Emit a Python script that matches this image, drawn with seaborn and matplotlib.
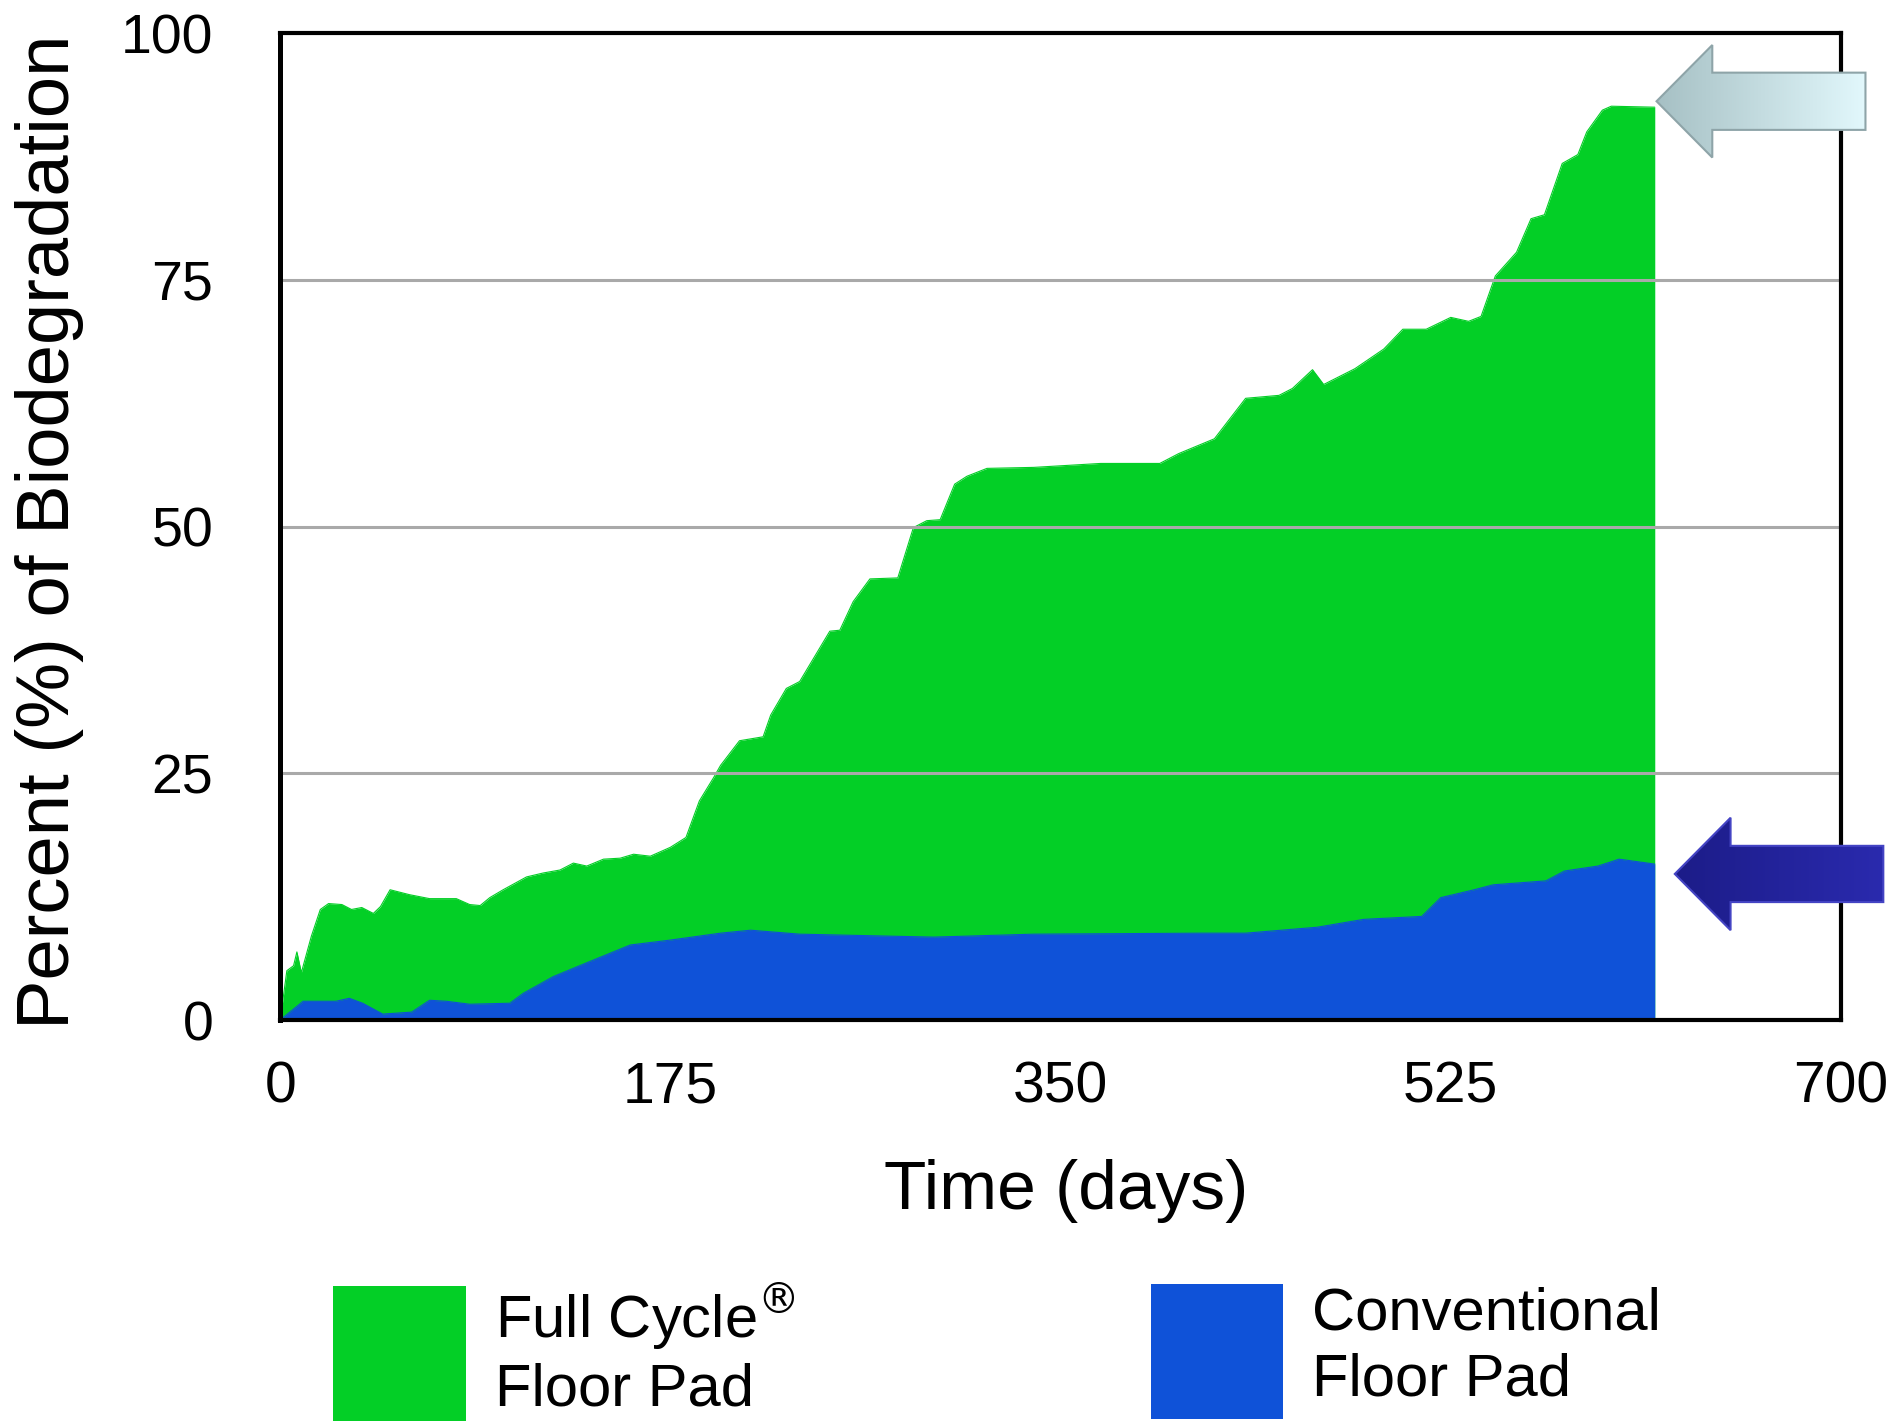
import numpy as np
import pandas as pd
import matplotlib
matplotlib.use("Agg")
from matplotlib import pyplot as plt
from matplotlib.patches import Polygon, Patch
from matplotlib.colors import LinearSegmentedColormap
import seaborn as sns

# values
full_days = [0, 3, 6, 7.5, 9.5, 14, 18, 21.7, 27.7, 32, 36.6, 41.8, 45, 49.3, 58, 67, 79, 85,
             89.7, 94, 100, 110.5, 118, 125.5, 131.5, 137.5, 145, 152.5, 158.5, 166, 175, 182,
             188, 194.5, 197.5, 206, 216.6, 220, 227, 233, 237.5, 246.5, 251, 257, 264.5, 277,
             284, 290, 296, 302.5, 308, 317, 338, 368, 394.5, 403, 419, 433, 448, 454, 463, 468,
             482, 495, 503.5, 514, 525, 533, 538.6, 545, 554.5, 561, 567, 575, 582, 586, 593,
             597, 616.5]
full_pct = [0, 5.0, 5.5, 6.9, 4.8, 8.5, 11.2, 11.8, 11.7, 11.2, 11.4, 10.8, 11.5, 13.2, 12.7,
            12.3, 12.3, 11.7, 11.6, 12.4, 13.2, 14.5, 14.9, 15.2, 15.9, 15.6, 16.3, 16.4, 16.8,
            16.6, 17.5, 18.5, 22.2, 24.6, 25.8, 28.3, 28.7, 30.9, 33.6, 34.3, 36.0, 39.4, 39.5,
            42.4, 44.7, 44.8, 49.9, 50.6, 50.7, 54.3, 55.1, 55.9, 56.0, 56.4, 56.4, 57.4, 58.9,
            63.0, 63.3, 64.0, 65.9, 64.4, 66.0, 68.0, 70.0, 70.0, 71.2, 70.8, 71.3, 75.4, 77.8,
            81.2, 81.6, 86.8, 87.7, 90.0, 92.2, 92.6, 92.5]

conv_days = [0, 10.3, 25, 31, 37, 46, 59, 67, 74.5, 85, 103, 109, 122.5, 137.5, 157, 175, 197.5,
             211, 233, 293, 338, 413, 433, 465, 486, 512, 520.5, 535.5, 544, 567.7, 576, 591,
             600.5, 616.5]
conv_pct = [0, 1.9, 1.9, 2.2, 1.7, 0.6, 0.8, 2.0, 1.9, 1.6, 1.7, 2.7, 4.4, 5.8, 7.6, 8.1, 8.8,
            9.1, 8.7, 8.4, 8.7, 8.8, 8.8, 9.4, 10.2, 10.5, 12.4, 13.2, 13.7, 14.1, 15.1, 15.6,
            16.3, 15.8]

x_ticks = [0, 175, 350, 525, 700]
y_ticks = [0, 25, 50, 75, 100]
series_labels = ["Full Cycle$^{\\circledR}$\nFloor Pad", "Conventional\nFloor Pad"]

GREEN = "#03cf26"
BLUE = "#0f52d8"

sns.set_theme(style="white")
plt.rcParams['font.family'] = ['Liberation Sans', 'DejaVu Sans']
plt.rcParams['text.color'] = 'black'
plt.rcParams['axes.labelcolor'] = 'black'
plt.rcParams['xtick.color'] = 'black'
plt.rcParams['ytick.color'] = 'black'


def draw_arrow(ax, tip_x, tip_y, tail_x, head_len, head_half, shaft_half, c_left, c_right, edge):
    hx = tip_x + head_len
    verts = [(tip_x, tip_y), (hx, tip_y + head_half), (hx, tip_y + shaft_half),
             (tail_x, tip_y + shaft_half), (tail_x, tip_y - shaft_half),
             (hx, tip_y - shaft_half), (hx, tip_y - head_half)]
    poly = Polygon(verts, closed=True, facecolor="none", edgecolor=edge, lw=1.5,
                   clip_on=False, zorder=7)
    ax.add_patch(poly)
    cmap = LinearSegmentedColormap.from_list("arrow", [c_left, c_right])
    grad = np.linspace(0, 1, 256).reshape(1, -1)
    im = ax.imshow(grad, cmap=cmap, aspect="auto", interpolation="bilinear", zorder=6,
                   extent=[tip_x, tail_x, tip_y - head_half, tip_y + head_half])
    im.set_clip_path(poly)
    im.set_clip_box(ax.figure.bbox)


fig = plt.figure(figsize=(18.93, 14.24), dpi=100)
ax = fig.add_axes([0.148, 0.2837, 0.8245, 0.693])

full = pd.DataFrame({"day": full_days, "pct": full_pct})
conv = pd.DataFrame({"day": conv_days, "pct": conv_pct})

sns.lineplot(data=full, x="day", y="pct", color=GREEN, lw=0.8, ax=ax, zorder=1)
ax.fill_between(full["day"], full["pct"], color=GREEN, lw=0, zorder=1)
sns.lineplot(data=conv, x="day", y="pct", color=BLUE, lw=0.8, ax=ax, zorder=2)
ax.fill_between(conv["day"], conv["pct"], color=BLUE, lw=0, zorder=2)

ax.hlines(y_ticks[1:-1], x_ticks[0], x_ticks[-1], color="#a9a9a9", lw=2.2, zorder=3)

draw_arrow(ax, full_days[-1] + 0.8, full_pct[-1] + 0.6, 711, 25, 5.7, 2.9,
           "#a6c0c4", "#e2f8fc", "#8ea4a8")
draw_arrow(ax, conv_days[-1] + 9, conv_pct[-1] - 1.0, 719, 25, 5.7, 2.85,
           "#1c1c88", "#2a2aae", "#4444c4")

ax.set_xlim(x_ticks[0], x_ticks[-1])
ax.set_ylim(y_ticks[0], y_ticks[-1])
ax.set_xticks(x_ticks)
ax.set_yticks(y_ticks)
ax.set_xticklabels([str(t) for t in x_ticks], fontsize=41)
ax.set_yticklabels([str(t) for t in y_ticks], fontsize=40)
ax.tick_params(axis="x", length=0, pad=29)
ax.tick_params(axis="y", length=0, pad=48)

for s in ax.spines.values():
    s.set_visible(True)
    s.set_color("black")
    s.set_linewidth(3)
    s.set_zorder(5)
ax.spines["left"].set_linewidth(3.6)

ax.set_xlabel("Time (days)", fontsize=50)
ax.set_ylabel("Percent (%) of Biodegradation", fontsize=53.5)
ax.xaxis.set_label_coords(0.5035, -0.141)
ax.yaxis.set_label_coords(-0.1256, 0.495)

legend_x = [333 / 1893, 1150.6 / 1893]
for lab, col, lx in zip(series_labels, [GREEN, BLUE], legend_x):
    leg = fig.legend(handles=[Patch(facecolor=col, edgecolor="none", label=lab)],
                     loc="center left", bbox_to_anchor=(lx, 0.051), frameon=False,
                     handlelength=2.22, handleheight=3.1, handletextpad=0.49,
                     borderpad=0, borderaxespad=0, prop={"size": 43})
    for t in leg.get_texts():
        t.set_linespacing(1.25)

fig.savefig("out.png", dpi=100)
